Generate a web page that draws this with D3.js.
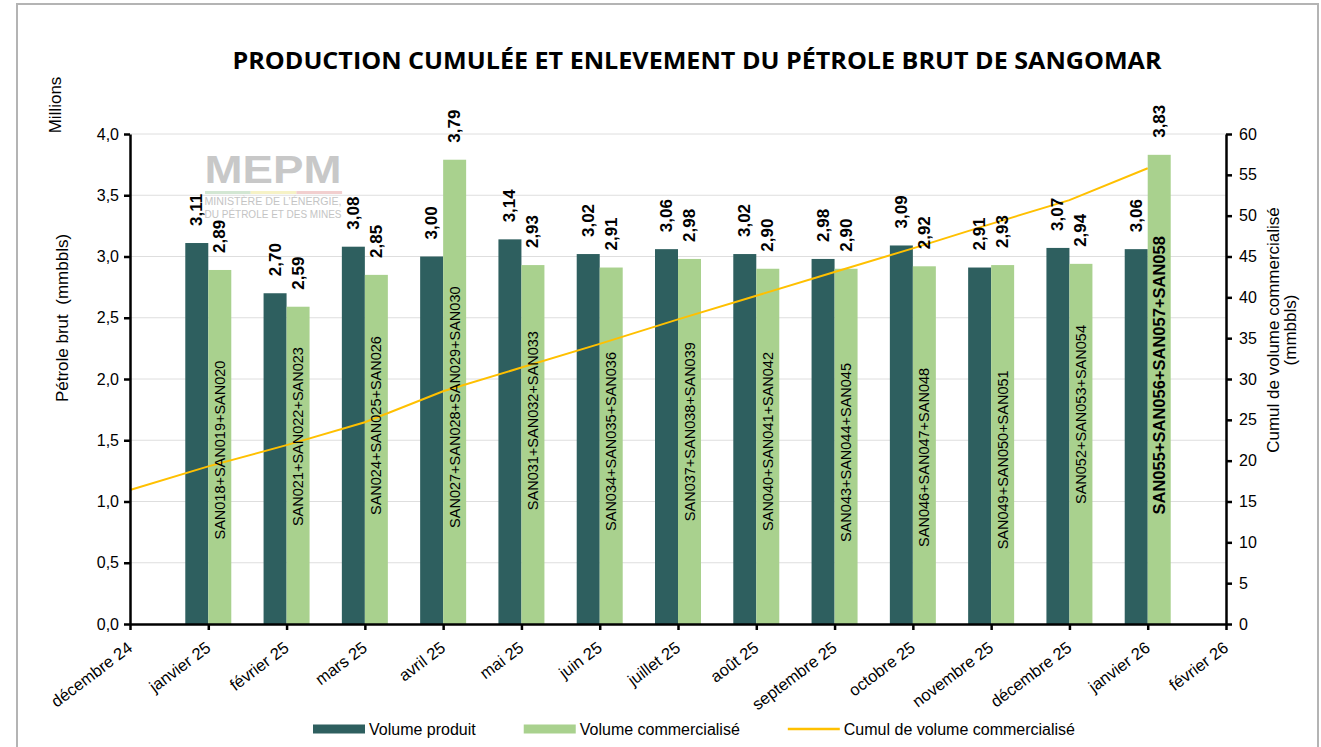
<!DOCTYPE html>
<html>
<head>
<meta charset="utf-8">
<script src="https://cdn.jsdelivr.net/npm/d3@7"></script>
<style>
    body { margin: 0; background: #fff; }
    svg { display: block; font-family: "Liberation Sans", Arial, sans-serif; }
</style>
</head>
<body>
<div id="chart"></div>
<script>
/*
 * Chart data.
 */
var months = ['décembre 24', 'janvier 25', 'février 25', 'mars 25', 'avril 25', 'mai 25', 'juin 25',
    'juillet 25', 'août 25', 'septembre 25', 'octobre 25', 'novembre 25', 'décembre 25',
    'janvier 26', 'février 26'];
var barMonths = ['janvier 25', 'février 25', 'mars 25', 'avril 25', 'mai 25', 'juin 25',
    'juillet 25', 'août 25', 'septembre 25', 'octobre 25', 'novembre 25', 'décembre 25', 'janvier 26'];
var producedValues = [3.11, 2.70, 3.08, 3.00, 3.14, 3.02, 3.06, 3.02, 2.98, 3.09, 2.91, 3.07, 3.06];
var soldValues = [2.89, 2.59, 2.85, 3.79, 2.93, 2.91, 2.98, 2.90, 2.90, 2.92, 2.93, 2.94, 3.83];
var cumulMonths = ['décembre 24', 'janvier 25', 'février 25', 'mars 25', 'avril 25', 'mai 25', 'juin 25',
    'juillet 25', 'août 25', 'septembre 25', 'octobre 25', 'novembre 25', 'décembre 25', 'janvier 26'];
var cumulValues = [16.4, 19.3, 21.9, 24.7, 28.5, 31.4, 34.3, 37.3, 40.2, 43.1, 46.0, 49.0, 51.9, 55.8];
var cargoLabels = ['SAN018+SAN019+SAN020', 'SAN021+SAN022+SAN023', 'SAN024+SAN025+SAN026',
    'SAN027+SAN028+SAN029+SAN030', 'SAN031+SAN032+SAN033', 'SAN034+SAN035+SAN036',
    'SAN037+SAN038+SAN039', 'SAN040+SAN041+SAN042', 'SAN043+SAN044+SAN045',
    'SAN046+SAN047+SAN048', 'SAN049+SAN050+SAN051', 'SAN052+SAN053+SAN054',
    'SAN055+SAN056+SAN057+SAN058'];
var leftTicks = [0, 0.5, 1, 1.5, 2, 2.5, 3, 3.5, 4];
var rightTicks = [0, 5, 10, 15, 20, 25, 30, 35, 40, 45, 50, 55, 60];
var seriesNames = ['Volume produit', 'Volume commercialisé', 'Cumul de volume commercialisé'];

/*
 * Placement of the cargo labels (mid point, in left axis units).
 */
var cargoLabelMid = [1.42, 1.53, 1.62, 1.77, 1.66, 1.49, 1.57, 1.49, 1.40, 1.36, 1.34, 1.71, 2.03];

/**
 * Sangomar production chart.
 * @class
 */
function SangomarChart() {
    this._width = 1321;
    this._height = 747;
    this._plot = {left: 130, right: 1226, top: 134, bottom: 624};
    this._colors = {produced: '#2e5f5f', sold: '#a9d18e', cumul: '#ffc000'};
    this._locale = d3.formatLocale({decimal: ',', thousands: ' ', grouping: [3], currency: ['', '']});

    this._xScale = d3.scalePoint()
        .domain(months)
        .range([this._plot.left, this._plot.right]);
    this._seriesScale = d3.scaleBand()
        .domain(['produced', 'sold'])
        .range([-23, 23]);
    this._yLeft = d3.scaleLinear()
        .domain([0, 4])
        .range([this._plot.bottom, this._plot.top]);
    this._yRight = d3.scaleLinear()
        .domain([0, 60])
        .range([this._plot.bottom, this._plot.top]);
}


/**
 * Render chart.
 * @param {String} selection
 */
SangomarChart.prototype.renderTo = function(selection) {

    var p = this._plot;

    this._svg = d3.select(selection).append('svg')
        .attr('width', this._width)
        .attr('height', this._height);
    /*
     * Frame.
     */
    this._svg.append('rect')
        .attr('x', 17).attr('y', 4)
        .attr('width', 1301).attr('height', 760)
        .attr('fill', '#fff')
        .attr('stroke', '#b4b4b4')
        .attr('stroke-width', 2);
    /*
     * Title.
     */
    this._svg.append('text')
        .attr('x', 697).attr('y', 69)
        .attr('text-anchor', 'middle')
        .attr('textLength', 929)
        .attr('lengthAdjust', 'spacingAndGlyphs')
        .style('font-family', '"Open Sans", sans-serif')
        .style('font-weight', 700)
        .style('font-size', '23.5px')
        .text('PRODUCTION CUMULÉE ET ENLEVEMENT DU PÉTROLE BRUT DE SANGOMAR');
    /*
     * Grid lines.
     */
    this._svg.append('g')
        .selectAll('line')
        .data(leftTicks.filter(d => d > 0))
        .join('line')
        .attr('x1', p.left).attr('x2', p.right)
        .attr('y1', d => this._yLeft(d)).attr('y2', d => this._yLeft(d))
        .attr('stroke', '#dedede')
        .attr('stroke-width', 1);

    this._drawLogo();
    this._drawBars();
    this._drawLine();
    this._drawAxes();
    this._drawLabels();
    this._drawLegend();

    return this;
};


/**
 * Ministry watermark.
 * @private
 */
SangomarChart.prototype._drawLogo = function() {

    var g = this._svg.append('g').attr('class', 'logo');

    g.append('text')
        .attr('x', 273).attr('y', 183)
        .attr('text-anchor', 'middle')
        .attr('textLength', 137)
        .attr('lengthAdjust', 'spacingAndGlyphs')
        .style('font-weight', 700)
        .style('font-size', '39px')
        .attr('fill', '#c8c8c8')
        .text('MEPM');

    var strip = ['#d3e7d3', '#f6f2c6', '#f2cfcf'];
    g.selectAll('rect')
        .data(strip)
        .join('rect')
        .attr('x', (d, i) => 205 + i * 45.7)
        .attr('y', 191)
        .attr('width', 45.7)
        .attr('height', 3)
        .attr('fill', d => d);

    g.selectAll('text.sub')
        .data(['MINISTÈRE DE L\u2019ÉNERGIE,', 'DU PÉTROLE ET DES MINES'])
        .join('text')
        .attr('class', 'sub')
        .attr('x', 273)
        .attr('y', (d, i) => 205 + i * 13)
        .attr('text-anchor', 'middle')
        .attr('textLength', 137)
        .attr('lengthAdjust', 'spacingAndGlyphs')
        .style('font-size', '10px')
        .attr('fill', '#c4c4c4')
        .text(d => d);
};


/**
 * Produced and sold bars.
 * @private
 */
SangomarChart.prototype._drawBars = function() {

    var self = this;
    var series = [
        {key: 'produced', values: producedValues},
        {key: 'sold', values: soldValues}
    ];

    series.forEach(function(s) {
        self._svg.append('g')
            .attr('class', 'bars-' + s.key)
            .selectAll('rect')
            .data(s.values)
            .join('rect')
            .attr('x', (d, i) => self._xScale(barMonths[i]) + self._seriesScale(s.key))
            .attr('y', d => self._yLeft(d))
            .attr('width', self._seriesScale.bandwidth())
            .attr('height', d => self._yLeft(0) - self._yLeft(d))
            .attr('fill', self._colors[s.key]);
    });
};


/**
 * Cumulative line.
 * @private
 */
SangomarChart.prototype._drawLine = function() {

    var line = d3.line()
        .x((d, i) => this._xScale(cumulMonths[i]))
        .y(d => this._yRight(d));

    this._svg.append('path')
        .attr('d', line(cumulValues))
        .attr('fill', 'none')
        .attr('stroke', this._colors.cumul)
        .attr('stroke-width', 2);
};


/**
 * Axes and axis titles.
 * @private
 */
SangomarChart.prototype._drawAxes = function() {

    var p = this._plot;
    var fmt1 = this._locale.format('.1f');

    var styleAxis = function(g) {
        g.select('.domain').attr('stroke', '#000').attr('stroke-width', 2.5);
        g.selectAll('.tick line').attr('stroke', '#000').attr('stroke-width', 2.5);
        g.selectAll('.tick text').attr('fill', '#000').style('font-size', '16px');
    };

    this._svg.append('g')
        .attr('transform', 'translate(' + p.left + ',0)')
        .call(d3.axisLeft(this._yLeft).tickValues(leftTicks).tickFormat(fmt1)
            .tickSize(6).tickSizeOuter(0).tickPadding(5))
        .call(styleAxis);

    this._svg.append('g')
        .attr('transform', 'translate(' + p.right + ',0)')
        .call(d3.axisRight(this._yRight).tickValues(rightTicks)
            .tickSize(6).tickSizeOuter(0).tickPadding(7))
        .call(styleAxis);

    var xAxis = this._svg.append('g')
        .attr('transform', 'translate(0,' + p.bottom + ')')
        .call(d3.axisBottom(this._xScale).tickSize(6).tickSizeOuter(0))
        .call(styleAxis);

    xAxis.selectAll('.tick text')
        .attr('x', 0).attr('y', 0).attr('dy', 0)
        .attr('text-anchor', 'end')
        .attr('transform', 'translate(3,26) rotate(-37)')
        .style('font-size', '16.5px');
    /*
     * Axis titles.
     */
    var title = (x, y, txt) => this._svg.append('text')
        .attr('transform', 'translate(' + x + ',' + y + ') rotate(-90)')
        .attr('text-anchor', 'middle')
        .style('font-size', '17px')
        .attr('fill', '#000')
        .text(txt);

    title(61, 105, 'Millions');
    title(68, 318, 'Pétrole brut\u00a0\u00a0(mmbbls)');
    title(1279, 330, 'Cumul de volume commercialisé');
    title(1296, 330, '(mmbbls)');
};


/**
 * Value and cargo labels.
 * @private
 */
SangomarChart.prototype._drawLabels = function() {

    var self = this;
    var fmt2 = this._locale.format('.2f');
    var series = [
        {key: 'produced', values: producedValues},
        {key: 'sold', values: soldValues}
    ];
    var half = this._seriesScale.bandwidth() / 2;

    series.forEach(function(s) {
        self._svg.append('g')
            .selectAll('text')
            .data(s.values)
            .join('text')
            .attr('transform', (d, i) => {
                var x = self._xScale(barMonths[i]) + self._seriesScale(s.key) + half;
                var y = self._yLeft(d) - 17;
                return 'translate(' + x + ',' + y + ') rotate(-90)';
            })
            .attr('dominant-baseline', 'central')
            .style('font-weight', 700)
            .style('font-size', '17px')
            .attr('fill', '#000')
            .text(d => fmt2(d));
    });

    var last = cargoLabels.length - 1;
    this._svg.append('g')
        .selectAll('text')
        .data(cargoLabels)
        .join('text')
        .attr('transform', (d, i) => {
            var x = self._xScale(barMonths[i]) + self._seriesScale('sold') + half;
            var y = self._yLeft(cargoLabelMid[i]);
            return 'translate(' + x + ',' + y + ') rotate(-90)';
        })
        .attr('text-anchor', 'middle')
        .attr('dominant-baseline', 'central')
        .style('font-weight', (d, i) => i === last ? 700 : 400)
        .style('font-size', (d, i) => i === last ? '16.5px' : '14.5px')
        .attr('fill', '#000')
        .text(d => d);
};


/**
 * Legend.
 * @private
 */
SangomarChart.prototype._drawLegend = function() {

    var self = this;
    var x = 313;
    var y = 729;
    var kinds = ['produced', 'sold', 'cumul'];

    seriesNames.forEach(function(name, i) {
        var g = self._svg.append('g');
        if (kinds[i] === 'cumul') {
            g.append('line')
                .attr('x1', x).attr('x2', x + 52)
                .attr('y1', y).attr('y2', y)
                .attr('stroke', self._colors.cumul)
                .attr('stroke-width', 2.5);
        } else {
            g.append('rect')
                .attr('x', x).attr('y', y - 4.5)
                .attr('width', 52).attr('height', 9)
                .attr('fill', self._colors[kinds[i]]);
        }
        var t = g.append('text')
            .attr('x', x + 56).attr('y', y + 6)
            .style('font-size', '16px')
            .attr('fill', '#000')
            .text(name);
        x += 56 + t.node().getComputedTextLength() + 48;
    });
};


new SangomarChart().renderTo('#chart');
</script>
</body>
</html>
